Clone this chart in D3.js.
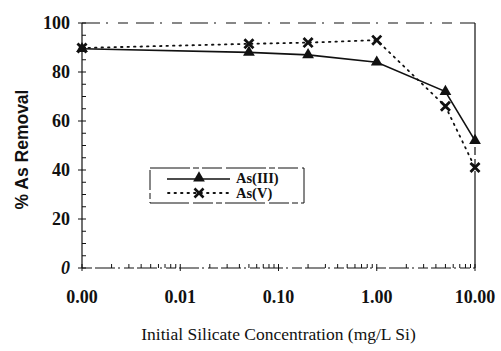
<!DOCTYPE html>
<html>
<head>
<meta charset="utf-8">
<script src="https://cdn.jsdelivr.net/npm/d3@7"></script>
<style>
  html, body { margin: 0; padding: 0; background: #fff; }
  svg { display: block; }
</style>
</head>
<body>
<svg id="chart" width="501" height="351"></svg>
<script>
// Silicate concentration (mg/L Si); 0 is plotted at the 0.001 position of the log axis
const concentrations = [0, 0.05, 0.2, 1, 5, 10];
const asIII = [89.5, 88, 87, 84, 72, 52];
const asV = [89.8, 91.5, 92, 93, 66, 41];
const xTickValues = [0.001, 0.01, 0.1, 1, 10];
const xTickLabels = ["0.00", "0.01", "0.10", "1.00", "10.00"];
const yTickValues = [0, 20, 40, 60, 80, 100];
const seriesNames = ["As(III)", "As(V)"];

const svg = d3.select("#chart");
const margin = { left: 82, right: 26, top: 23, bottom: 83 };
const W = 501, H = 351;

const x = d3.scaleLog().domain([0.001, 10]).range([margin.left, W - margin.right]);
const y = d3.scaleLinear().domain([0, 100]).range([H - margin.bottom, margin.top]);
const xPos = c => x(c === 0 ? 0.001 : c);

const serif = "'Liberation Serif', 'Times New Roman', serif";

// plot frame
const x0 = x.range()[0], x1 = x.range()[1], y0 = y.range()[0], y1 = y.range()[1];
const frame = svg.append("g").attr("stroke", "#111").attr("fill", "none").attr("stroke-width", 1.2);
frame.append("line").attr("x1", x0).attr("x2", x1).attr("y1", y1).attr("y2", y1)
  .attr("stroke-dasharray", "18,6,2,10,10,8");
frame.append("line").attr("x1", x1).attr("x2", x1).attr("y1", y1).attr("y2", y0)
  .attr("stroke-dasharray", "120,4,8,4,8,4");
frame.append("line").attr("x1", x0).attr("x2", x1).attr("y1", y0).attr("y2", y0)
  .attr("stroke-dasharray", "10,3,20,3,2,4");
frame.append("line").attr("x1", x0).attr("x2", x0).attr("y1", y1).attr("y2", y0);

// y axis: major ticks crossing, minor ticks inward every 5
const yAxis = svg.append("g").attr("stroke", "#111").attr("stroke-width", 1);
d3.range(0, 101, 5).forEach(v => {
  const major = v % 20 === 0;
  yAxis.append("line")
    .attr("x1", major ? x0 - 4 : x0).attr("x2", x0 + 4)
    .attr("y1", y(v)).attr("y2", y(v));
});
svg.append("g").selectAll("text").data(yTickValues).join("text")
  .attr("x", x0 - 12).attr("y", d => y(d) + 6)
  .attr("text-anchor", "end")
  .attr("font-family", serif).attr("font-weight", "bold")
  .attr("font-style", d => d === 0 ? "italic" : "normal")
  .attr("font-size", 18).attr("fill", "#111")
  .text(d => d);

// x axis: log minor ticks inward
const xAxis = svg.append("g").attr("stroke", "#111").attr("stroke-width", 1);
x.ticks().forEach(v => {
  const isMajor = xTickValues.some(t => Math.abs(t - v) < 1e-9);
  xAxis.append("line")
    .attr("x1", x(v)).attr("x2", x(v))
    .attr("y1", y0 + (isMajor ? 3 : 0)).attr("y2", y0 - 4);
});
svg.append("g").selectAll("text").data(xTickValues).join("text")
  .attr("x", d => x(d)).attr("y", y0 + 35)
  .attr("text-anchor", "middle")
  .attr("font-family", serif).attr("font-weight", "bold")
  .attr("font-size", 18).attr("fill", "#111")
  .text((d, i) => xTickLabels[i]);

// axis titles
svg.append("text")
  .attr("x", (x0 + x1) / 2).attr("y", 340)
  .attr("text-anchor", "middle")
  .attr("font-family", serif).attr("font-size", 17.5).attr("fill", "#111")
  .text("Initial Silicate Concentration  (mg/L Si)");
svg.append("text")
  .attr("transform", `translate(28, ${(y0 + y1) / 2 + 4}) rotate(-90)`)
  .attr("text-anchor", "middle")
  .attr("font-family", "'Liberation Sans', Arial, sans-serif").attr("font-weight", "bold")
  .attr("font-size", 17.5).attr("fill", "#111")
  .text("% As Removal");

// series lines
const line = d3.line().x((d, i) => xPos(concentrations[i])).y(d => y(d));
svg.append("path").datum(asV).attr("d", line)
  .attr("fill", "none").attr("stroke", "#111").attr("stroke-width", 1.8)
  .attr("stroke-dasharray", "1.5,5").attr("stroke-linecap", "round");
svg.append("path").datum(asIII).attr("d", line)
  .attr("fill", "none").attr("stroke", "#111").attr("stroke-width", 1.6);

const triangle = d3.symbol().type(d3.symbolTriangle).size(60);
const cross = d3.symbol().type(d3.symbolX).size(55);

svg.append("g").selectAll("path").data(asIII).join("path")
  .attr("d", triangle)
  .attr("transform", (d, i) => `translate(${xPos(concentrations[i])},${y(d)})`)
  .attr("fill", "#111");
svg.append("g").selectAll("path").data(asV).join("path")
  .attr("d", cross)
  .attr("transform", (d, i) => `translate(${xPos(concentrations[i])},${y(d)})`)
  .attr("fill", "none").attr("stroke", "#111").attr("stroke-width", 2.8);

// legend
const lg = svg.append("g");
lg.append("rect").attr("x", 150).attr("y", 168).attr("width", 154).attr("height", 35)
  .attr("fill", "#fff").attr("stroke", "#111").attr("stroke-width", 1)
  .attr("stroke-dasharray", "40,3,6,3,20,4");
lg.append("line").attr("x1", 167).attr("x2", 230).attr("y1", 179).attr("y2", 179)
  .attr("stroke", "#111").attr("stroke-width", 1.6);
lg.append("path").attr("d", triangle).attr("transform", "translate(199,178)").attr("fill", "#111");
lg.append("line").attr("x1", 168).attr("x2", 230).attr("y1", 193).attr("y2", 193)
  .attr("stroke", "#111").attr("stroke-width", 1.8)
  .attr("stroke-dasharray", "1.5,5").attr("stroke-linecap", "round");
lg.append("path").attr("d", cross).attr("transform", "translate(199,193)")
  .attr("fill", "none").attr("stroke", "#111").attr("stroke-width", 2.6);
lg.selectAll("text.lbl").data(seriesNames).join("text")
  .attr("class", "lbl")
  .attr("x", 236).attr("y", (d, i) => 183 + i * 15)
  .attr("font-family", serif).attr("font-weight", "bold")
  .attr("font-size", 14.5).attr("fill", "#111")
  .text(d => d);
</script>
</body>
</html>
